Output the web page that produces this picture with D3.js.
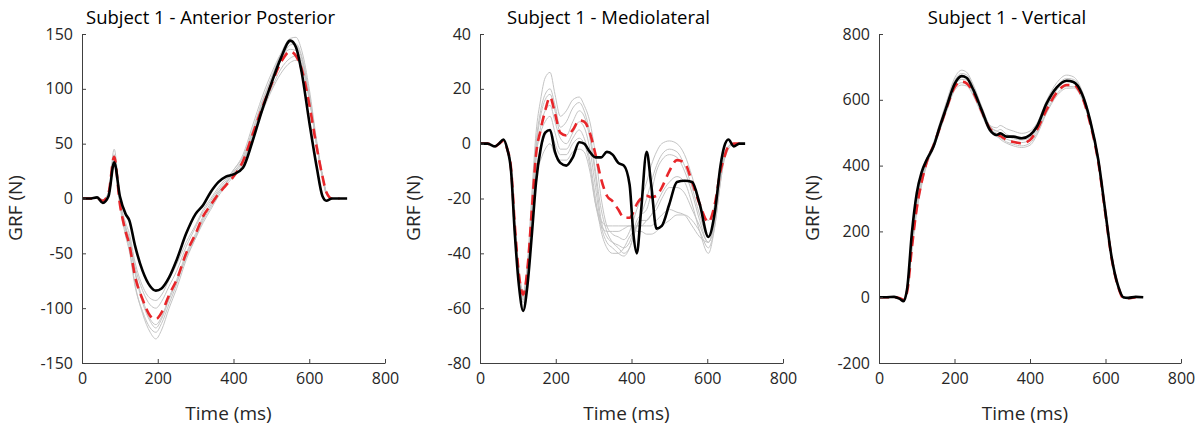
<!DOCTYPE html>
<html>
<head>
<meta charset="utf-8">
<script src="https://cdn.jsdelivr.net/npm/d3@7"></script>
<style>
  body { margin: 0; background: #fff; }
  svg { display: block; font-family: "Open Sans", sans-serif; }
  .tick text { fill: #262626; }
</style>
</head>
<body>
<svg id="chart" width="1201" height="426"></svg>
<script>
// ---- Anterior Posterior ----
const timeAP = [0, 20, 40, 55, 70, 85, 100, 115, 125, 140, 160, 180, 195, 210, 230, 250, 275, 300, 320, 340, 360, 380, 400, 425, 450, 475, 500, 525, 550, 565, 580, 600, 620, 635, 645, 660, 680, 700];
const subjectAP = [0, 0, 1, -4, 2, 33, 2, -14, -20, -43, -66, -80, -84, -82, -72, -56, -32, -14, -6, 6, 15, 20, 22, 28, 52, 80, 105, 128, 144, 138, 115, 70, 28, 2, -2, 0, 0, 0];
const meanAP = [0, 0, 0, -2, 5, 38, -5, -30, -42, -71, -92, -107, -110, -104, -88, -74, -50, -32, -16, -6, 4, 12, 20, 34, 58, 82, 104, 124, 134, 130, 118, 86, 46, 20, 6, 0, 0, null];
const trialAP1 = [0, 0, 0, -2, 6, 45, -2, -30, -45, -78, -105, -122, -128, -120, -100, -82, -56, -36, -20, -8, 4, 14, 24, 36, 60, 84, 106, 126, 140, 141, 130, 95, 50, 20, 6, 0, 0, null];
const trialAP2 = [0, 0, 0, -2, 5, 40, -6, -34, -48, -80, -103, -118, -122, -114, -96, -78, -52, -34, -18, -6, 6, 14, 22, 34, 58, 86, 110, 132, 146, 147, 135, 100, 52, 22, 6, 0, 0, null];
const trialAP3 = [0, 0, 0, -1, 4, 36, -4, -28, -40, -68, -95, -112, -118, -110, -92, -76, -54, -36, -22, -10, 2, 12, 20, 32, 56, 80, 100, 118, 128, 130, 122, 92, 48, 20, 5, 0, 0, null];
const trialAP4 = [0, 0, 0, -2, 5, 38, -2, -26, -38, -66, -92, -110, -115, -108, -90, -74, -50, -32, -16, -4, 6, 14, 24, 34, 56, 78, 98, 114, 124, 126, 120, 90, 48, 20, 5, 0, 0, null];
const trialAP5 = [0, 0, 0, -2, 4, 34, -4, -26, -36, -62, -84, -97, -100, -94, -80, -66, -44, -26, -12, -2, 8, 16, 26, 38, 62, 88, 110, 128, 136, 135, 125, 92, 48, 18, 4, 0, 0, null];
const trialAP6 = [0, 0, 0, -1, 5, 36, -2, -22, -32, -58, -80, -91, -93, -88, -74, -60, -40, -24, -10, 0, 10, 18, 26, 40, 66, 92, 114, 132, 142, 140, 128, 94, 48, 20, 5, 0, 0, null];

// ---- Mediolateral ----
const timeML = [0, 20, 40, 50, 62, 72, 82, 92, 103, 114, 125, 137, 148, 160, 172, 185, 198, 212, 228, 245, 262, 275, 290, 305, 320, 335, 350, 365, 380, 395, 405, 414, 425, 440, 452, 466, 480, 500, 520, 540, 560, 580, 603, 620, 635, 645, 656, 670, 685, 700];
const subjectML = [0, 0, -1, 0, 1.5, -2, -10, -33, -52, -61, -52, -33, -14, -2, 4, 5, -3, -7, -8, -5, 0.5, 0, -3, -5, -5, -3, -4, -7, -8, -15, -33, -40, -25, -3, -15, -31, -30, -22, -14, -13.5, -14, -22, -34, -25, -8, -1, 1.5, -1, 0, 0];
const meanML = [0, 0, -1, 0, 1, -2, -9, -30, -48, -55, -46, -24, -4, 5, 12, 17, 11, 4, 3, 5, 8.5, 8, 4, -4, -13, -19, -21, -24, -27, -27, -25, -22, -20, -19, -19.5, -19, -16, -10, -6, -7, -14, -22, -28.6, -22, -10, -5, -1, 0, 0, null];
const trialML1 = [0, 0, -1, 0, 1, -2, -8, -28, -46, -54, -44, -18, 4, 16, 24, 26, 18, 10, 12, 16, 17, 14, 8, -4, -20, -30, -33, -34, -35, -32, -28, -24, -20, -14, -8, -3, 0, 1, 0, -4, -12, -22, -28, -22, -10, -4, -1, 0, 0, null];
const trialML2 = [0, 0, -1, 0, 1, -2, -9, -30, -48, -56, -46, -22, 0, 12, 18, 20, 14, 6, 8, 13, 15, 12, 4, -10, -24, -32, -36, -38, -40, -38, -34, -30, -26, -20, -14, -8, -4, -2, -3, -8, -16, -26, -34, -26, -12, -4, -1, 0, 0, null];
const trialML3 = [0, 0, -1, 0, 1, -2, -9, -31, -49, -57, -48, -26, -2, 10, 16, 18, 12, 4, 3, 8, 12, 10, 2, -12, -28, -34, -36, -37, -38, -36, -32, -28, -26, -24, -18, -10, -6, -4, -5, -10, -18, -28, -36, -28, -12, -5, -1, 0, 0, null];
const trialML4 = [0, 0, -1, 0, 1, -2, -9, -31, -50, -58, -49, -28, -6, 6, 12, 14, 8, 2, 0, 4, 8, 6, -2, -16, -30, -36, -38, -40, -41, -38, -34, -30, -28, -28, -26, -22, -18, -14, -12, -14, -22, -32, -40, -30, -14, -6, -2, 0, 0, null];
const trialML5 = [0, 0, -1, 0, 1, -2, -8, -29, -47, -55, -45, -24, -4, 4, 8, 10, 4, -2, -2, 2, 5, 2, -6, -20, -32, -38, -40, -40, -38, -34, -32, -30, -30, -28, -26, -24, -20, -16, -16, -18, -24, -30, -36, -28, -12, -5, -1, 0, 0, null];
const trialML6 = [0, 0, -1, 0, 1, -2, -9, -30, -49, -57, -47, -28, -10, -2, 3, 5, 0, -4, -4, 0, 2, 0, -8, -22, -30, -32, -32, -32, -31, -30, -30, -30, -30, -30, -30, -28, -26, -24, -25, -26, -30, -34, -36, -28, -12, -5, -1, 0, 0, null];
const trialML7 = [0, 0, -1, 0, 1, -2, -9, -30, -48, -56, -48, -30, -12, -6, -2, 0, -4, -6, -6, -3, -2, -3, -10, -22, -28, -30, -30, -30, -30, -30, -30, -32, -32, -33, -33, -32, -30, -28, -26, -26, -28, -32, -38, -30, -14, -5, -1, 0, 0, null];

// ---- Vertical ----
const timeV = [0, 20, 40, 55, 65, 75, 87, 100, 113, 126, 144, 161, 179, 201, 219, 232, 250, 272, 294, 312, 321, 338, 356, 378, 400, 418, 444, 471, 497, 515, 537, 559, 581, 599, 616, 634, 647, 660, 680, 700];
const subjectV = [0, 0, 1, -5, -12, 30, 194, 316, 380, 417, 457, 518, 579, 650, 672, 667, 630, 569, 508, 493, 498, 488, 488, 483, 493, 518, 589, 638, 658, 654, 620, 539, 417, 265, 123, 32, 0, -2, 1, 0];
const meanV = [0, 0, 0, -3, -8, 20, 150, 270, 350, 410, 460, 515, 575, 640, 655, 650, 622, 565, 512, 496, 490, 478, 472, 468, 478, 508, 570, 622, 645, 645, 612, 530, 410, 260, 120, 30, -2, -3, 0, null];
const trialV1 = [0, 0, 1, -4, -10, 26, 180, 300, 372, 420, 468, 530, 595, 668, 690, 684, 645, 580, 522, 515, 522, 512, 505, 498, 505, 528, 598, 652, 675, 670, 630, 545, 420, 268, 122, 30, -2, -2, 0, null];
const trialV2 = [0, 0, 0, -3, -8, 22, 160, 285, 360, 415, 462, 520, 585, 655, 675, 668, 635, 575, 520, 505, 510, 495, 488, 480, 488, 515, 585, 640, 665, 662, 625, 540, 415, 262, 120, 30, -2, -2, 0, null];
const trialV3 = [0, 0, 0, -3, -8, 18, 140, 260, 340, 400, 450, 505, 565, 630, 645, 642, 612, 555, 502, 488, 484, 472, 465, 460, 468, 498, 565, 618, 640, 640, 608, 528, 408, 258, 118, 28, -2, -2, 0, null];
const trialV4 = [0, 0, 0, -3, -8, 20, 145, 265, 345, 405, 455, 510, 570, 638, 652, 648, 618, 560, 505, 490, 480, 468, 460, 455, 462, 492, 560, 612, 635, 636, 605, 525, 405, 256, 118, 28, -2, -2, 0, null];
const trialV5 = [0, 0, 1, -4, -10, 24, 170, 290, 365, 415, 462, 522, 588, 660, 680, 676, 640, 578, 520, 505, 500, 490, 482, 478, 485, 512, 580, 635, 660, 656, 620, 535, 412, 262, 120, 30, -2, -2, 0, null];
const trialV6 = [0, 0, 0, -3, -9, 22, 155, 278, 355, 410, 458, 515, 578, 645, 662, 660, 628, 568, 512, 498, 492, 480, 474, 470, 478, 505, 575, 630, 655, 652, 615, 532, 410, 260, 120, 29, -2, -2, 0, null];

const xTicks = [0, 200, 400, 600, 800];
const titles = ['Subject 1 - Anterior Posterior', 'Subject 1 - Mediolateral', 'Subject 1 - Vertical'];
const yDomains = [[-150, 150], [-80, 40], [-200, 800]];
const yTickSteps = [50, 20, 200];

const panels = [
  { left: 82, right: 385, time: timeAP, subject: subjectAP, mean: meanAP,
    trials: [trialAP1, trialAP2, trialAP3, trialAP4, trialAP5, trialAP6] },
  { left: 480, right: 783, time: timeML, subject: subjectML, mean: meanML,
    trials: [trialML1, trialML2, trialML3, trialML4, trialML5, trialML6, trialML7] },
  { left: 879, right: 1181, time: timeV, subject: subjectV, mean: meanV,
    trials: [trialV1, trialV2, trialV3, trialV4, trialV5, trialV6] }
];

const plotTop = 34;
const plotBottom = 363;
const axisColor = '#404040';
const textColor = '#262626';

const svg = d3.select('#chart');

// plain hyphen for negatives, like the original figure
const tickFormat = function (d) { return String(d); };

panels.forEach(function (p, i) {
  const x = d3.scaleLinear().domain([0, 800]).range([p.left, p.right]);
  const y = d3.scaleLinear().domain(yDomains[i]).range([plotBottom, plotTop]);
  const yTicks = d3.range(yDomains[i][0], yDomains[i][1] + 1, yTickSteps[i]);

  const g = svg.append('g');

  const line = d3.line()
    .defined(function (d) { return d[1] !== null; })
    .x(function (d) { return x(d[0]); })
    .y(function (d) { return y(d[1]); })
    .curve(d3.curveMonotoneX);

  function pairs(values) {
    return p.time.map(function (t, k) { return [t, values[k]]; });
  }

  // single trials
  g.selectAll('.trial')
    .data(p.trials)
    .enter()
    .append('path')
    .attr('class', 'trial')
    .attr('d', function (d) { return line(pairs(d)); })
    .attr('fill', 'none')
    .attr('stroke', '#c4c4c4')
    .attr('stroke-width', 1);

  // mean of trials
  g.append('path')
    .attr('d', line(pairs(p.mean)))
    .attr('fill', 'none')
    .attr('stroke', '#e8262a')
    .attr('stroke-width', 2.6)
    .attr('stroke-dasharray', '10,6');

  // subject curve
  g.append('path')
    .attr('d', line(pairs(p.subject)))
    .attr('fill', 'none')
    .attr('stroke', '#000')
    .attr('stroke-width', 2.6)
    .attr('stroke-linejoin', 'round');

  // axes, ticks pointing inwards like matlab
  const xAxis = g.append('g')
    .attr('transform', 'translate(0,' + plotBottom + ')')
    .call(d3.axisBottom(x).tickValues(xTicks).tickFormat(tickFormat)
      .tickSize(-4).tickSizeOuter(0).tickPadding(10));
  const yAxis = g.append('g')
    .attr('transform', 'translate(' + p.left + ',0)')
    .call(d3.axisLeft(y).tickValues(yTicks).tickFormat(tickFormat)
      .tickSize(-4).tickSizeOuter(0).tickPadding(9));

  [xAxis, yAxis].forEach(function (a) {
    a.select('.domain').attr('stroke', axisColor);
    a.selectAll('.tick line').attr('stroke', axisColor);
    a.selectAll('.tick text')
      .style('font-size', '16px')
      .style('font-family', '"Open Sans", sans-serif')
      .attr('fill', textColor);
  });
  xAxis.selectAll('.tick text').attr('dy', '0.71em');

  const cx = (p.left + p.right) / 2;

  g.append('text')
    .attr('x', cx - 23)
    .attr('y', 24)
    .attr('text-anchor', 'middle')
    .style('font-size', '18.5px')
    .attr('fill', '#000')
    .text(titles[i]);

  g.append('text')
    .attr('x', cx - 5)
    .attr('y', 420)
    .attr('text-anchor', 'middle')
    .style('font-size', '19px')
    .attr('fill', textColor)
    .text('Time (ms)');

  g.append('text')
    .attr('transform', 'translate(' + (p.left - 60) + ',208) rotate(-90)')
    .attr('text-anchor', 'middle')
    .style('font-size', '19px')
    .attr('fill', textColor)
    .text('GRF (N)');
});
</script>
</body>
</html>
